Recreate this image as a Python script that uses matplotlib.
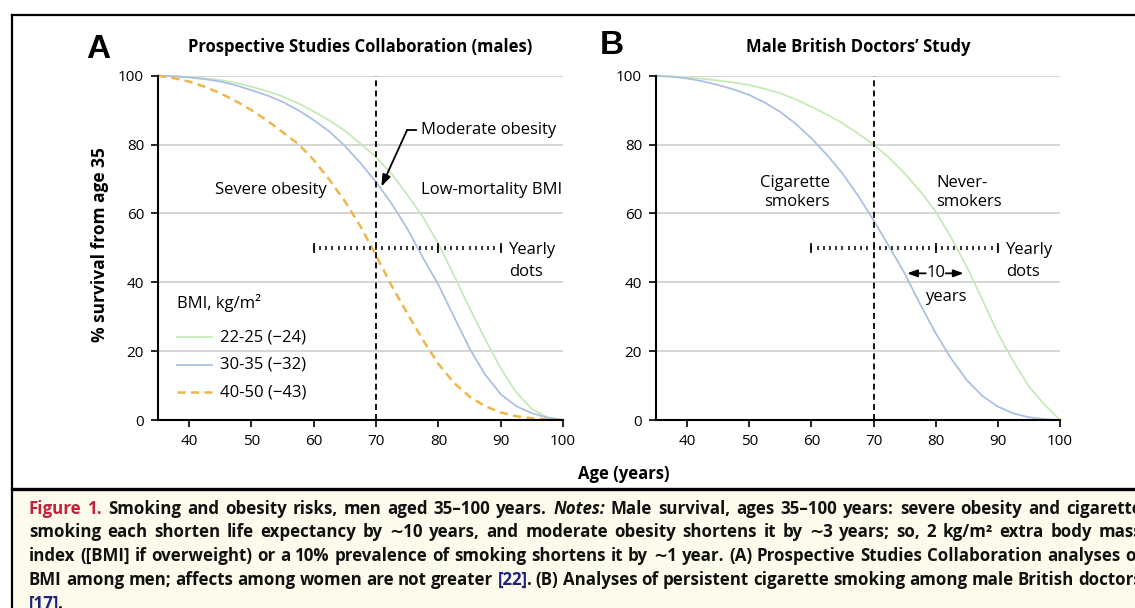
import numpy as np
import matplotlib
matplotlib.use('Agg')
import matplotlib.pyplot as plt
from matplotlib.lines import Line2D
from matplotlib.patches import Rectangle

plt.rcParams['font.family'] = ['Open Sans', 'DejaVu Sans']

# ---- data ----
ages = [35, 37.5, 40, 42.5, 45, 47.5, 50, 52.5, 55, 57.5, 60, 62.5, 65, 67.5,
        70, 72.5, 75, 77.5, 80, 82.5, 85, 87.5, 90, 92.5, 95, 97.5, 100]

# panel A: Prospective Studies Collaboration, % survival from age 35
bmi_22_25 = [100, 99.9, 99.6, 99.2, 98.7, 97.9, 96.8, 95.5, 94.0, 92.0, 89.6, 87.0, 84.0, 80.3,
             76.3, 71.5, 65.5, 59.0, 51.2, 42.0, 32.5, 23.5, 15.0, 8.0, 3.2, 0.8, 0]
bmi_30_35 = [100, 99.8, 99.5, 99.0, 98.3, 97.2, 95.8, 94.3, 92.4, 90.0, 87.1, 83.8, 79.6, 74.6,
             69.1, 62.8, 55.6, 47.2, 39.3, 30.0, 20.8, 13.2, 7.5, 4.0, 2.0, 0.7, 0]
bmi_40_50 = [100, 99.3, 98.3, 96.8, 94.9, 92.6, 90.0, 87.0, 83.6, 80.2, 75.5, 69.8, 63.5, 56.2,
             47.8, 39.0, 31.0, 23.3, 16.3, 10.8, 6.8, 4.0, 2.2, 1.1, 0.5, 0.15, 0]
bmi_labels = ['22-25 (\u221224)', '30-35 (\u221232)', '40-50 (\u221243)']

# panel B: Male British Doctors' Study
never_smokers = [100, 99.8, 99.5, 99.1, 98.6, 98.0, 97.3, 96.2, 94.9, 93.1, 91.0, 88.7, 86.2, 83.2,
                 80.0, 76.2, 71.6, 66.5, 60.5, 53.0, 44.5, 35.0, 25.2, 17.0, 9.7, 4.5, 0]
smokers = [100, 99.7, 99.2, 98.4, 97.3, 96.0, 94.4, 92.2, 89.5, 86.0, 81.8, 77.0, 71.6, 65.2,
           58.0, 50.4, 42.6, 33.6, 25.2, 17.8, 11.6, 7.0, 3.9, 1.9, 0.8, 0.25, 0]

x_ticks = [40, 50, 60, 70, 80, 90, 100]
y_ticks = [0, 20, 40, 60, 80, 100]
ref_age = 70
dot_start, dot_end = 60, 90

GREEN = '#c4eab4'
BLUE = '#a9bfe2'
ORANGE = '#efb64c'
GRID = '#d3d3d3'

W, H = 1135, 608


def fx(px):
    return px / W


def fy(py):
    return 1 - py / H


fig = plt.figure(figsize=(W / 100, H / 100), dpi=100)

# frame and caption background
fig.add_artist(Rectangle((fx(12), 0), 1 - fx(12), fy(489), facecolor='#fdfbec',
                         edgecolor='none', zorder=0))
fig.add_artist(Line2D([fx(12), 1], [fy(15), fy(15)], color='black', lw=1.6))
fig.add_artist(Line2D([fx(12), fx(12)], [fy(15), 0], color='black', lw=1.6))
fig.add_artist(Line2D([fx(12), 1], [fy(489), fy(489)], color='black', lw=2.4))

axA = fig.add_axes([fx(158), fy(420), fx(563) - fx(158), (420 - 75.7) / H])
axB = fig.add_axes([fx(656), fy(420), fx(1060) - fx(656), (420 - 75.7) / H])


def style_axis(ax):
    ax.set_xlim(35, 100)
    ax.set_ylim(0, 100)
    ax.set_xticks(x_ticks)
    ax.set_yticks(y_ticks)
    for s in ['top', 'right']:
        ax.spines[s].set_visible(False)
    for s in ['left', 'bottom']:
        ax.spines[s].set_linewidth(1.5)
    ax.tick_params(direction='out', length=5, width=1.2, labelsize=11, pad=5)
    ax.yaxis.grid(True, color=GRID, lw=1.3)
    ax.set_axisbelow(True)
    ax.set_facecolor('none')
    # reference line at age 70
    ax.plot([ref_age, ref_age], [0, 100], color='black', lw=1.3, dashes=(3.3, 2.3),
            clip_on=False, zorder=3)
    # yearly dots
    years = np.arange(dot_start, dot_end + 1)
    ax.plot(years, [50] * len(years), ls='none', marker='|', ms=3.4, mew=1.1,
            color='black', zorder=4)
    ax.plot([dot_start, 80, dot_end], [50, 50, 50], ls='none', marker='|', ms=6.5,
            mew=1.2, color='black', zorder=4)
    ax.text(91.3, 49.5, 'Yearly', fontsize=12, va='center', ha='left')
    ax.text(91.3, 43.0, 'dots', fontsize=12, va='center', ha='left')


style_axis(axA)
style_axis(axB)

# ---- panel A ----
axA.plot(ages, bmi_22_25, color=GREEN, lw=1.25, clip_on=False, zorder=2)
axA.plot(ages, bmi_30_35, color=BLUE, lw=1.25, clip_on=False, zorder=2)
axA.plot(ages, bmi_40_50, color=ORANGE, lw=1.8, dashes=(3.3, 2.1), clip_on=False, zorder=2)

axA.text(62.1, 66.7, 'Severe obesity', fontsize=12, ha='right', va='center')
axA.text(77.2, 66.7, 'Low-mortality BMI', fontsize=12, ha='left', va='center')
axA.text(77.2, 84.3, 'Moderate obesity', fontsize=12, ha='left', va='center')
axA.plot([75.0, 76.4], [84.3, 84.3], color='black', lw=1.3)
axA.annotate('', xy=(70.85, 67.8), xytext=(75.0, 84.3),
             arrowprops=dict(arrowstyle='-|>,head_width=0.25,head_length=0.7',
                             color='black', lw=1.3, shrinkA=0, shrinkB=0))

# legend
axA.text(38.1, 34.0, 'BMI, kg/m\u00b2', fontsize=12, ha='left', va='center')
leg_y = [24.1, 16.1, 8.0]
axA.plot([38.1, 43.7], [leg_y[0]] * 2, color=GREEN, lw=1.25)
axA.plot([38.1, 43.7], [leg_y[1]] * 2, color=BLUE, lw=1.25)
axA.plot([38.1, 43.7], [leg_y[2]] * 2, color=ORANGE, lw=1.8, dashes=(3.3, 2.1))
for yv, lab in zip(leg_y, bmi_labels):
    axA.text(45.0, yv, lab, fontsize=12, ha='left', va='center')

# ---- panel B ----
axB.plot(ages, never_smokers, color=GREEN, lw=1.25, clip_on=False, zorder=2)
axB.plot(ages, smokers, color=BLUE, lw=1.25, clip_on=False, zorder=2)

axB.text(63.0, 66.1, 'Cigarette\nsmokers', fontsize=12, ha='right', va='center',
         multialignment='right', linespacing=1.25)
axB.text(80.1, 66.1, 'Never-\nsmokers', fontsize=12, ha='left', va='center',
         multialignment='left', linespacing=1.25)
axB.text(80.0, 42.6, '10', fontsize=12, ha='center', va='center')
axB.text(81.7, 35.7, 'years', fontsize=12, ha='center', va='center')
axB.annotate('', xy=(75.4, 42.6), xytext=(78.4, 42.6),
             arrowprops=dict(arrowstyle='-|>,head_width=0.22,head_length=0.6',
                             color='black', lw=1.3, shrinkA=0, shrinkB=0))
axB.annotate('', xy=(84.5, 42.6), xytext=(81.6, 42.6),
             arrowprops=dict(arrowstyle='-|>,head_width=0.22,head_length=0.6',
                             color='black', lw=1.3, shrinkA=0, shrinkB=0))

# ---- figure labels ----
fig.text(fx(98), fy(49), 'A', fontsize=24, fontweight='bold', ha='center', va='center',
         family=['Liberation Sans', 'DejaVu Sans'])
fig.text(fx(612), fy(46), 'B', fontsize=24, fontweight='bold', ha='center', va='center',
         family=['Liberation Sans', 'DejaVu Sans'])
fig.text(fx(360), fy(47), 'Prospective Studies Collaboration (males)', fontsize=12,
         fontweight='bold', ha='center', va='center')
fig.text(fx(858), fy(47), 'Male British Doctors\u2019 Study', fontsize=12,
         fontweight='bold', ha='center', va='center')
fig.text(fx(100), fy(245), '% survival from age 35', fontsize=12.5, fontweight='bold',
         rotation=90, ha='center', va='center')
fig.text(fx(624), fy(474), 'Age (years)', fontsize=12, fontweight='bold',
         ha='center', va='center')

# ---- caption, justified ----
caption = [
    [('Figure 1.', 'red'), (' Smoking and obesity risks, men aged 35\u2013100 years. ', 'k'),
     ('Notes:', 'it'), (' Male survival, ages 35\u2013100 years: severe obesity and cigarette', 'k')],
    [('smoking each shorten life expectancy by \u223c10 years, and moderate obesity shortens it '
      'by \u223c3 years; so, 2 kg/m\u00b2 extra body mass', 'k')],
    [('index ([BMI] if overweight) or a 10% prevalence of smoking shortens it by \u223c1 year. '
      '(A) Prospective Studies Collaboration analyses of', 'k')],
    [('BMI among men; affects among women are not greater ', 'k'), ('[22]', 'blue'),
     ('. (B) Analyses of persistent cigarette smoking among male British doctors', 'k')],
    [('[17]', 'blue'), ('.', 'k')],
]
styles = {'k': dict(color='#111111'), 'red': dict(color='#c3203b'),
          'blue': dict(color='#1b237e'), 'it': dict(color='#111111', style='italic')}

renderer = fig.canvas.get_renderer()
x_left, x_right = 29, 1141
for i, segs in enumerate(caption):
    base = 513.5 + 23.8 * i
    words = [[]]
    for txt, st in segs:
        parts = txt.split(' ')
        for j, p in enumerate(parts):
            if j > 0:
                words.append([])
            if p:
                words[-1].append((p, st))
    words = [w for w in words if w]
    placed = []
    widths = []
    for w in words:
        arts = []
        wsum = 0
        for p, st in w:
            t = fig.text(0, fy(base), p, fontsize=12.2, fontweight='bold', va='baseline',
                         ha='left', **styles[st])
            bw = t.get_window_extent(renderer).width
            arts.append((t, wsum))
            wsum += bw - 1
        placed.append(arts)
        widths.append(wsum)
    if i < len(caption) - 1:
        gap = max(3, (x_right - x_left - sum(widths)) / (len(words) - 1))
    else:
        gap = 4.5
    x = x_left
    for arts, wd in zip(placed, widths):
        for t, off in arts:
            t.set_x(fx(x + off))
        x += wd + gap

fig.savefig('out.png', dpi=100)
